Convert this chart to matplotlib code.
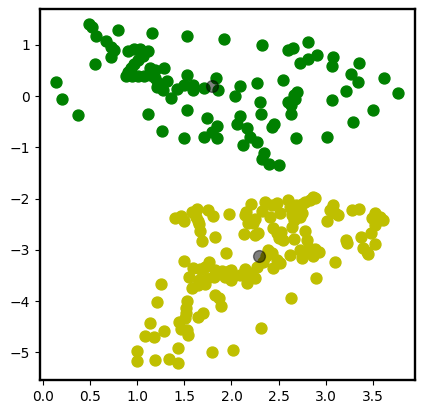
import matplotlib
matplotlib.use("Agg")
from matplotlib import pyplot as plt

# cluster 1 (green)
green_x = [0.49, 0.52, 0.56, 0.79, 1.15, 0.67, 0.72, 0.75, 0.72, 0.55,
           0.13, 0.20, 0.37, 1.11, 1.26,
           0.90, 0.96, 1.03, 1.11, 1.06, 1.01, 0.96, 0.93, 0.90, 0.88,
           0.94, 1.01, 1.07, 1.13, 1.13, 1.19, 1.19, 1.22, 1.21, 1.27,
           1.28, 1.31, 1.36,
           1.42, 1.49, 1.53, 1.59, 1.59, 1.53, 1.53, 1.71, 1.84, 1.86,
           1.92, 1.50, 1.71, 1.74, 1.79, 1.85, 1.85, 2.09, 2.04, 2.27,
           2.55, 2.30, 2.31, 2.09, 2.06, 2.17, 2.20, 2.12, 2.27, 2.35,
           2.32, 2.40, 2.50, 2.43, 2.45, 2.32,
           2.60, 2.65, 2.81, 2.91, 2.73, 2.81, 3.08, 3.07, 3.36, 3.27,
           3.34, 3.62, 3.77, 3.22, 3.07, 3.50, 3.29, 2.69, 3.02, 2.66,
           2.70, 2.67, 2.60, 2.63, 2.63]
green_y = [1.40, 1.34, 1.17, 1.29, 1.24, 1.07, 0.96, 0.89, 0.77, 0.62,
           0.28, -0.06, -0.37, -0.35, -0.68,
           0.88, 0.92, 0.92, 0.88, 0.78, 0.70, 0.62, 0.55, 0.47, 0.39,
           0.39, 0.39, 0.39, 0.41, 0.55, 0.51, 0.35, 0.25, 0.18, 0.12,
           0.54, 0.29, -0.04,
           0.13, 0.21, 0.42, 0.21, 0.12, 1.17, -0.27, 0.15, 0.35, 0.12,
           1.11, -0.82, -0.79, -0.43, -0.71, -0.58, -0.81, 0.19, 0.01, 0.26,
           0.31, -0.12, -0.34, -0.39, -0.54, -0.63, -0.79, -0.96, -0.90, -1.11,
           -1.23, -1.33, -1.35, -0.60, -0.55, 1.00,
           0.90, 0.93, 1.06, 0.81, 0.65, 0.72, 0.77, 0.58, 0.64, 0.44,
           0.27, 0.36, 0.07, 0.09, -0.07, -0.28, -0.50, -0.81, -0.80, 0.02,
           0.08, -0.06, -0.12, -0.18, -0.34]

# cluster 2 (yellow)
yellow_x = [1.40, 1.46, 1.50, 1.58, 1.63, 1.62, 1.64, 1.66, 1.75, 1.80,
            1.97, 1.67, 1.69, 1.82, 1.94, 1.50, 1.59, 1.67, 1.72, 1.76,
            1.82, 1.90, 1.97, 2.00, 1.55, 1.25, 1.65, 1.74, 1.81, 1.93,
            2.00, 1.58, 1.64, 1.72, 1.82, 1.87, 1.89, 1.21, 1.53, 1.52,
            1.52, 1.51, 1.70, 1.64, 1.13, 1.44, 1.46, 1.53, 1.54, 1.28,
            1.08, 1.18, 1.00, 1.00, 1.43, 1.19, 1.34, 1.43, 1.79, 2.02,
            2.31, 2.63,
            2.21, 2.36, 2.15, 2.14, 2.25, 2.23, 2.18, 2.32, 2.43, 2.48,
            2.52, 2.60, 2.62, 2.64, 2.69, 2.75, 2.78, 2.83, 2.87, 2.41,
            2.64, 2.66, 2.73, 2.75, 2.64,
            2.13, 2.25, 2.28, 2.44, 2.48, 2.53, 2.50, 2.55, 2.66, 2.78,
            2.80, 2.82, 2.73, 2.83, 2.87, 2.75, 2.89, 2.62, 2.39, 2.43,
            2.37, 2.34, 2.48, 2.52, 2.44, 2.14, 2.16, 2.09, 2.20, 2.25,
            2.90, 2.02, 2.16, 2.27,
            2.89, 3.08, 3.05, 3.10, 3.13, 3.02, 3.28, 3.35, 3.52, 3.58,
            3.49, 3.54, 3.61, 3.53, 3.22, 3.23, 3.38, 3.48, 3.52, 3.40,
            3.44, 3.45, 2.93, 3.10]
yellow_y = [-2.37, -2.34, -2.43, -2.27, -2.20, -2.36, -2.44, -2.49, -2.23, -2.34,
            -2.31, -2.64, -2.83, -2.75, -3.06, -3.22, -3.36, -3.38, -3.33, -3.23,
            -3.39, -3.42, -3.42, -3.39, -3.53, -3.67, -3.59, -3.55, -3.53, -3.53,
            -3.59, -3.74, -3.69, -3.67, -3.88, -3.94, -4.09, -4.01, -3.99, -4.14,
            -4.24, -4.33, -4.24, -4.32, -4.42, -4.41, -4.54, -4.57, -4.66, -4.58,
            -4.69, -4.70, -4.97, -5.17, -4.91, -5.15, -5.13, -5.21, -4.99, -4.96,
            -4.53, -3.94,
            -2.11, -2.06, -2.27, -2.32, -2.40, -2.48, -2.48, -2.24, -2.12, -2.09,
            -2.29, -2.03, -2.16, -2.22, -2.12, -2.11, -2.06, -2.03, -1.97, -2.35,
            -2.32, -2.42, -2.35, -2.29, -2.55,
            -2.69, -2.71, -2.68, -2.58, -2.68, -2.65, -2.77, -2.81, -2.79, -2.63,
            -2.81, -2.97, -3.00, -3.04, -3.13, -3.16, -2.99, -3.10, -3.00, -3.07,
            -3.13, -3.23, -3.20, -3.26, -3.36, -3.38, -3.51, -3.49, -3.46, -3.55,
            -3.55, -3.52, -3.65, -3.33,
            -1.99, -2.12, -2.22, -2.29, -2.32, -2.43, -2.23, -2.21, -2.29, -2.35,
            -2.38, -2.45, -2.42, -2.51, -2.81, -2.87, -2.74, -2.68, -2.89, -2.97,
            -3.04, -3.09, -3.05, -3.23]

# centroids
center_x = [1.79, 2.29]
center_y = [0.19, -3.12]

fig = plt.figure(figsize=(4.23, 4.12), dpi=100)
ax = fig.add_axes([0.0946, 0.0777, 0.8864, 0.9005])

ax.scatter(green_x, green_y, c='g', s=62)
ax.scatter(yellow_x, yellow_y, c='y', s=62)
ax.scatter(center_x, center_y, c='black', s=72, alpha=0.5)

ax.set_xlim(-0.035, 3.95)
ax.set_ylim(-5.54, 1.70)
ax.set_xticks([0.0, 0.5, 1.0, 1.5, 2.0, 2.5, 3.0, 3.5])
ax.set_yticks([1, 0, -1, -2, -3, -4, -5])
for sp in ax.spines.values():
    sp.set_linewidth(1.7)
ax.tick_params(labelsize=10)

plt.savefig("out.png", dpi=100)
